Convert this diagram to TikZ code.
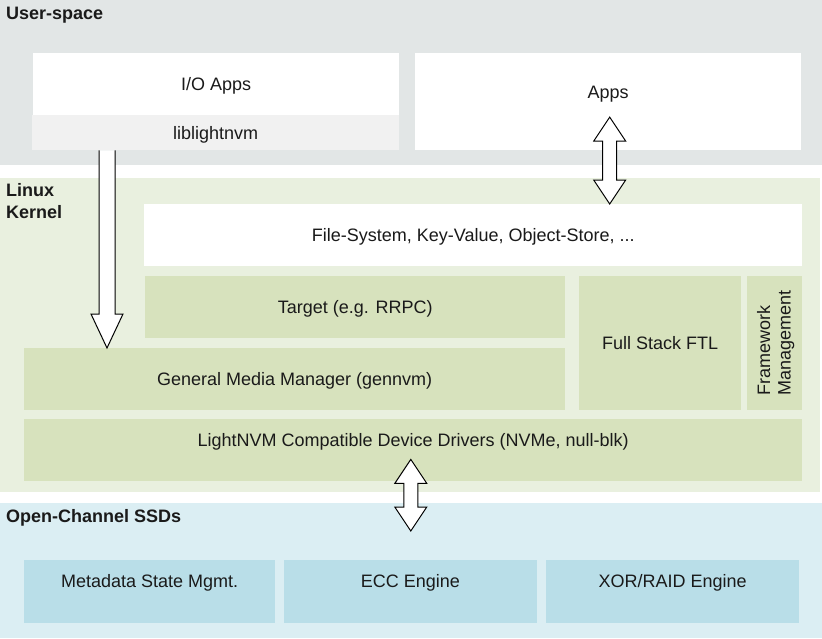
\documentclass[tikz,border=0pt]{standalone}
\usepackage{fontspec}
\setmainfont{Liberation Sans}
\usetikzlibrary{calc}

\definecolor{usergrey}{HTML}{E2E6E6}
\definecolor{libgrey}{HTML}{F1F1F1}
\definecolor{kernbg}{HTML}{E9F0DF}
\definecolor{kernbox}{HTML}{D7E2BD}
\definecolor{ssdbg}{HTML}{DBEEF3}
\definecolor{ssdbox}{HTML}{B9DEE8}
\definecolor{textgrey}{HTML}{1A1A1A}

\newcommand\diafont{\fontsize{18}{21.3}\selectfont}

\tikzset{
  region/.style={rectangle, inner sep=0pt, anchor=north west},
  box/.style={rectangle, inner sep=0pt, anchor=north west, text=textgrey,
    font=\diafont, text height=12.9pt, text depth=0pt},
  ubox/.style={box, fill=white},
  kbox/.style={box, fill=kernbox},
  sbox/.style={box, fill=ssdbox},
  layername/.style={inner sep=0pt, anchor=north west, align=left,
    font=\diafont\bfseries, text=textgrey},
  blockarrow/.style={draw=black, fill=white, line width=1pt, line join=miter}
}

% hollow arrow pointing down, open at its tail
\newcommand\blockdown[2]{%
  \draw[blockarrow] let \p1=(#1), \p2=(#2) in
    (\x1-8pt,\y1) -- (\x1-8pt,\y2+34pt) -- (\x1-16pt,\y2+34pt) -- (\x2,\y2)
    -- (\x1+16pt,\y2+34pt) -- (\x1+8pt,\y2+34pt) -- (\x1+8pt,\y1);}
% hollow arrow with a head at both ends
\newcommand\blockboth[2]{%
  \draw[blockarrow] let \p1=(#1), \p2=(#2) in
    (\x1,\y1) -- (\x1+16pt,\y1-24pt) -- (\x1+7pt,\y1-24pt) -- (\x1+7pt,\y2+24pt)
    -- (\x1+16pt,\y2+24pt) -- (\x2,\y2) -- (\x1-16pt,\y2+24pt) -- (\x1-7pt,\y2+24pt)
    -- (\x1-7pt,\y1-24pt) -- (\x1-16pt,\y1-24pt) -- cycle;}

\begin{document}
\begin{tikzpicture}[x=1pt, y=-1pt]
  \useasboundingbox (0,0) rectangle (822,638);

  % layers
  \node[region, fill=usergrey, minimum width=822, minimum height=165] (user) at (0,0) {};
  \node[region, fill=kernbg, minimum width=820, minimum height=314] (kernel) at (0,178) {};
  \node[region, fill=ssdbg, minimum width=822, minimum height=135] (ssd) at (0,503) {};

  \node[layername] (userlbl) at (6,6.5) {User-space};
  \node[layername] (kernellbl) at (6,183.5) {Linux\\Kernel};
  \node[layername] (ssdlbl) at (6,509.5) {Open-Channel SSDs};

  % user-space
  \node[ubox, minimum width=366, minimum height=62] (ioapps) at (33,53) {I/O Apps};
  \node[ubox, fill=libgrey, minimum width=367, minimum height=35] (lib) at (32,115) {liblightnvm};
  \node[ubox, minimum width=386, minimum height=97, text depth=19pt] (apps) at (415,53) {Apps};

  % kernel
  \node[ubox, minimum width=658, minimum height=61.5] (fs) at (144,204) {File-System, Key-Value, Object-Store, ...};
  \begin{scope}[every node/.style=kbox]
    \node[minimum width=420, minimum height=62] (target) at (145,276) {Target (e.g. RRPC)};
    \node[minimum width=541, minimum height=62] (gmm) at (24,348) {General Media Manager (gennvm)};
    \node[minimum width=162, minimum height=134] (ftl) at (579,276) {Full Stack FTL};
    \node[minimum width=55, minimum height=134] (fm) at (747,276) {};
    \node[minimum width=778, minimum height=62, text depth=21pt] (drv) at (24,419)
      {LightNVM Compatible Device Drivers (NVMe, null-blk)};
  \end{scope}
  \node[rotate=90, inner sep=0pt, align=left, font=\fontsize{18}{20.5}\selectfont, text=textgrey]
    (fmtext) at ([xshift=1]fm.center) {Framework\\Management};

  % open-channel SSDs
  \begin{scope}[every node/.style={sbox, minimum height=63, text depth=21pt}]
    \node[minimum width=251] (meta) at (24,560) {Metadata State Mgmt.};
    \node[minimum width=252.5] (ecc) at (284,560) {ECC Engine};
    \node[minimum width=253] (xor) at (546,560) {XOR/RAID Engine};
  \end{scope}

  % arrows
  \coordinate (libout) at ([xshift=75]lib.south west);
  \coordinate (gmmin) at (libout |- gmm.north);
  \coordinate (appsout) at ([xshift=1.5,yshift=33.3]apps.south);
  \coordinate (fsin) at (appsout |- fs.north);
  \coordinate (drvout) at ([xshift=-2.4,yshift=22]drv.south);
  \coordinate (ssdin) at ($(drvout |- ssd.north)+(0,28)$);

  \blockdown{libout}{gmmin}
  \blockboth{appsout}{fsin}
  \blockboth{drvout}{ssdin}
\end{tikzpicture}
\end{document}
